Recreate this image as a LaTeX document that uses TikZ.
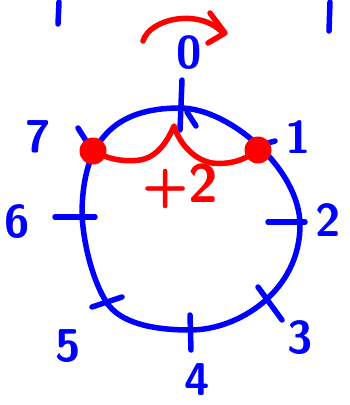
\documentclass[tikz,border=0pt]{standalone}
\usepackage{tikz}
\usetikzlibrary{positioning}
\definecolor{penblue}{RGB}{0,0,255}
\definecolor{penred}{RGB}{255,0,0}
\tikzset{
  pen/.style={line width=5.5pt, line cap=round, line join=round},
  lbl/.style={text=penblue, inner sep=0pt, font=\fontsize{46}{46}\selectfont\sffamily\bfseries},
  jumplbl/.style={lbl, text=penred, font=\fontsize{54}{54}\selectfont\sffamily\bfseries},
  dot/.style={circle, fill=penred, minimum size=27pt, inner sep=0pt}
}
\begin{document}
\begin{tikzpicture}[x=1pt, y=-1pt]
  \useasboundingbox (0,0) rectangle (349,405);

  % Ring
  \draw[pen, penblue] (180,108) .. controls (230,108) and (300,170) .. (300,225)
    .. controls (300,290) and (240,330) .. (190,330)
    .. controls (150,330) and (120,322) .. (107,303)
    .. controls (95,285) and (84,250) .. (82,215)
    .. controls (82,140) and (115,108) .. cycle;

  % Ticks
  \foreach \xa/\ya/\xb/\yb in {
      182/80/180/130,
      187/112/196/126,
      78/128/90/147,
      268/143/275/141,
      268/222/305/222,
      258/287/282/320,
      190/315/191/350,
      92/307/122/297,
      55/217/95/217
  } {
      \draw[pen, penblue] (\xa,\ya) -- (\xb,\yb);
  }

  % Labels
  \foreach \n/\x/\y in {
      0/189/53, 1/298/137, 2/328/220, 3/300/338,
      4/197/380, 5/68/346, 6/17/222, 7/38/137
  } {
      \node[lbl] (l\n) at (\x,\y) {\n};
  }

  % Marks at the top edge
  \draw[pen, penblue] (59,2) -- (58,24);
  \draw[pen, penblue] (330,2) -- (329,31);

  % Jump
  \node[dot] (d7) at (93,151) {};
  \node[dot] (d1) at (258,150) {};
  \draw[pen, penred] (d7.center) .. controls (110,160) and (125,162) .. (140,160)
    .. controls (158,157) and (168,140) .. (174,126)
    .. controls (180,145) and (195,160) .. (212,163)
    .. controls (230,165) and (245,160) .. (d1.center);
  \node[jumplbl] (jump) at (180,186) {+2};

  % Arrow on top
  \draw[pen, penred] (143,41) .. controls (150,18) and (200,8) .. (223,33);
  \draw[pen, penred] (210,13) -- (225,33) -- (208,43);
\end{tikzpicture}
\end{document}
